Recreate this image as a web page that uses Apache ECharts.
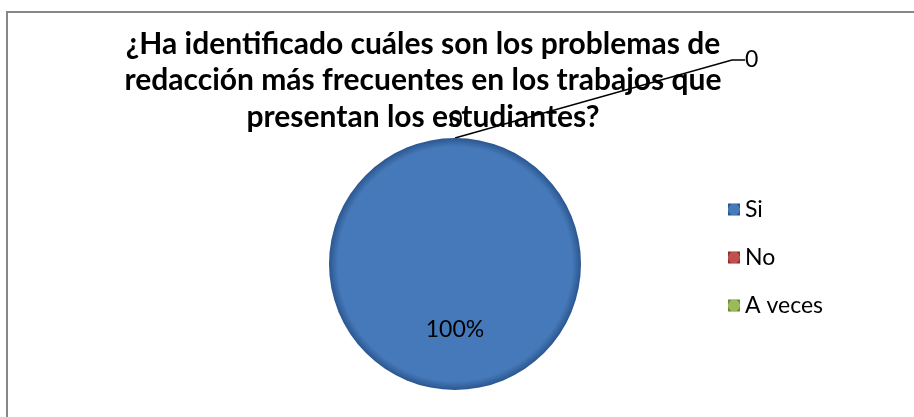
<!DOCTYPE html>
<html>
<head>
<meta charset="utf-8">
<script src="https://cdn.jsdelivr.net/npm/echarts@6/dist/echarts.min.js"></script>
<style>
  html, body { margin: 0; padding: 0; background: #fff; }
  #chart { width: 914px; height: 417px; }
</style>
</head>
<body>
<div id="chart"></div>
<script>
const categories = ['Si', 'No', 'A veces']
const values = [100, 0, 0]
const colors = ['#4679b9', '#c0504d', '#9bbb59']
const titleText = '¿Ha identificado cuáles son los problemas de\nredacción más frecuentes en los trabajos que\npresentan los estudiantes?'

const FONT = 'Lato, "Open Sans", sans-serif'

const chart = echarts.init(document.getElementById('chart'))

// darker rim, a bit like the office bevel
const bevel = (c, dark) => new echarts.graphic.RadialGradient(0.5, 0.5, 0.5, [
  { offset: 0, color: c },
  { offset: 0.93, color: c },
  { offset: 1, color: dark }
])
const darks = ['#2a5690', '#8c2f2d', '#6f8a3c']

const option = {
  animation: false,
  graphic: [
    {
      type: 'rect',
      shape: { x: 7, y: 12, width: 930, height: 440 },
      style: { fill: 'none', stroke: '#878787', lineWidth: 2 },
      silent: true
    },
    {
      type: 'text',
      x: 423,
      y: 26,
      style: {
        text: titleText,
        textAlign: 'center',
        font: 'bold 30px ' + FONT,
        lineHeight: 36.5,
        fill: '#000'
      },
      z: 10
    }
  ],
  legend: {
    orient: 'vertical',
    left: 728,
    top: 198,
    padding: 0,
    itemWidth: 12,
    itemHeight: 12,
    itemGap: 25,
    icon: 'rect',
    textStyle: { fontSize: 23, fontFamily: FONT, color: '#000', lineHeight: 23 },
    data: categories
  },
  series: [
    {
      type: 'pie',
      center: [455, 264],
      radius: 126,
      startAngle: 90,
      avoidLabelOverlap: false,
      z: 5,
      data: categories.map((name, i) => ({
        name,
        value: values[i],
        itemStyle: { color: bevel(colors[i], darks[i]) },
        label: i === 0
          ? { position: 'inside' }
          : { position: 'outside' },
        labelLine: { show: i === 1, length: 10, length2: 13 }
      })),
      label: {
        fontSize: 23,
        fontFamily: FONT,
        color: '#000',
        formatter: p => (p.value > 0 ? Math.round(p.percent) + '%' : String(p.value))
      },
      labelLine: {
        lineStyle: { color: '#000', width: 1.3 }
      },
      labelLayout: p => {
        if (p.dataIndex === 1) return { x: 745, y: 60, align: 'left', verticalAlign: 'middle' }
        if (p.dataIndex === 2) return { x: 456, y: 120, align: 'center', verticalAlign: 'middle' }
        return { dy: 0 }
      },
      emphasis: { disabled: true }
    }
  ]
}

chart.setOption(option)
</script>
</body>
</html>
